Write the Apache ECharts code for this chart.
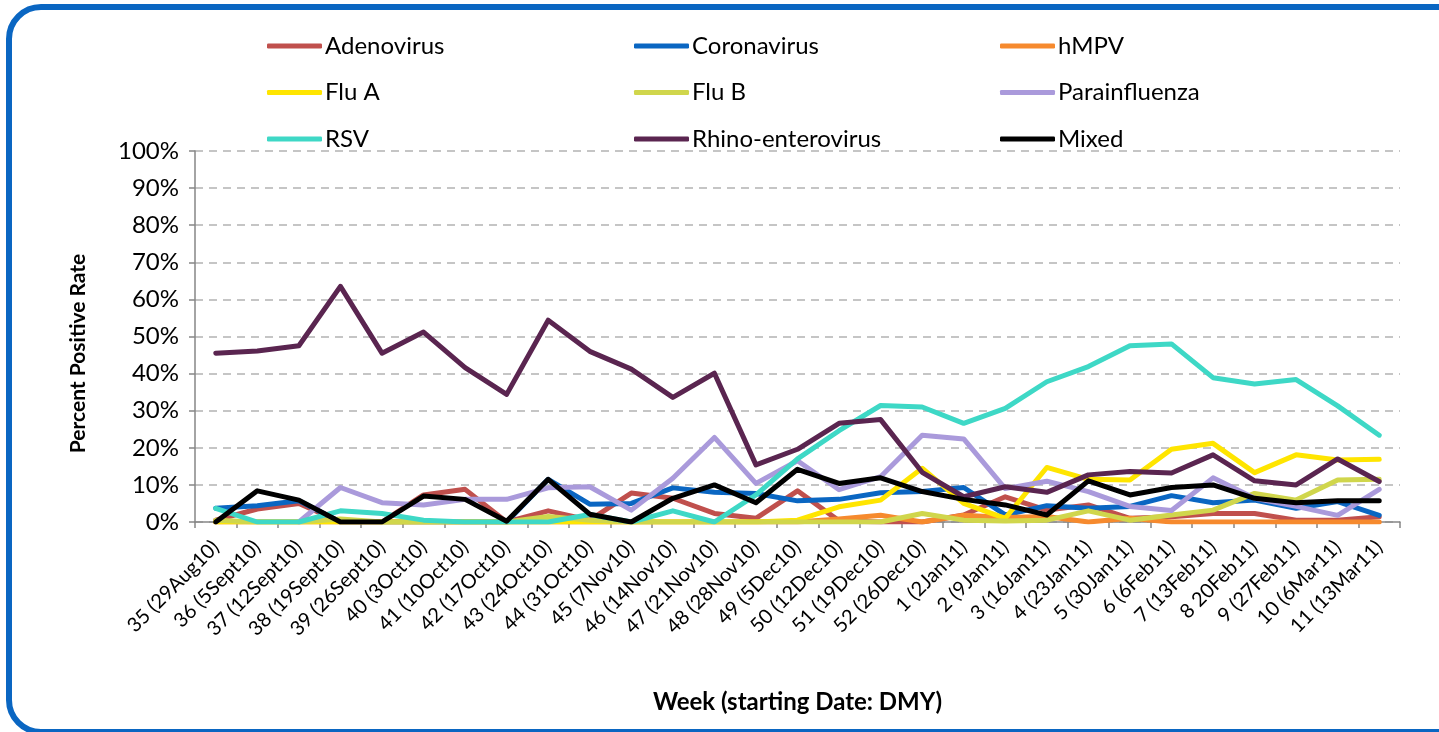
<!DOCTYPE html>
<html>
<head>
<meta charset="utf-8">
<script src="https://cdn.jsdelivr.net/npm/echarts@6/dist/echarts.min.js"></script>
<style>
  html, body { margin: 0; padding: 0; background: #ffffff; }
  #chart { width: 1439px; height: 732px; }
</style>
</head>
<body>
<div id="chart"></div>
<script>
// Weekly respiratory virus positivity, week 35 of 2010 to week 11 of 2011
const weeks = [
  '35 (29Aug10)', '36 (5Sept10)', '37 (12Sept10)', '38 (19Sept10)', '39 (26Sept10)',
  '40 (3Oct10)', '41 (10Oct10)', '42 (17Oct10)', '43 (24Oct10)', '44 (31Oct10)',
  '45 (7Nov10)', '46 (14Nov10)', '47 (21Nov10)', '48 (28Nov10)', '49 (5Dec10)',
  '50 (12Dec10)', '51 (19Dec10)', '52 (26Dec10)', '1 (2Jan11)', '2 (9Jan11)',
  '3 (16Jan11)', '4 (23Jan11)', '5 (30Jan11)', '6 (6Feb11)', '7 (13Feb11)',
  '8 20Feb11)', '9 (27Feb11)', '10 (6Mar11)', '11 (13Mar11)'
];

// Percent positive per week (null = no result reported that week)
const adenovirus   = [0.5, 3.5, 5.0, 0, 0, 7.3, 8.8, 0, 3.0, 0.5, 7.8, 6.4, 2.3, 1.0, 8.4, 0.3, 0, 0, 1.9, 6.8, 3.2, 4.6, 1.0, 1.4, 2.3, 2.3, 0.5, 0.5, 1.4];
const coronavirus  = [3.7, 4.4, 5.7, 0, 0, 0, 0, 0, 11.5, 4.8, 5.0, 9.2, 8.0, 7.7, 5.7, 6.1, 7.9, 8.2, 9.3, 1.9, 4.4, 3.7, 4.2, 7.1, 5.2, 5.9, 3.7, 5.5, 1.8];
const hmpv         = [0, 0, 0, 0, 0, 0, 0, 0, 0, 0, 0, 0, 0, 0, 0, 0.8, 1.8, 0, 1.8, 1.2, 1.5, 0, 1.0, 0, 0, 0, 0, 0, 0];
const fluA         = [0, 0, 0, 0, 0, 0, 0, 0, 0, 0, 0, 0, 0, 0, 0.5, 4.1, 5.9, 14.5, 5.0, 1.0, 14.7, 11.5, 11.3, 19.6, 21.2, 13.3, 18.1, 16.7, 16.9];
const fluB         = [0.5, 0, 0, 0.8, 0, 0, 0, 0, 1.5, 0.5, 0, 0, 0, 0, 0, 0, 0, 2.3, 0.5, 0.3, 0.5, 3.0, 0.5, 1.9, 3.2, 7.7, 5.9, 11.3, 11.5];
const parainfluenza = [null, null, 0, 9.3, 5.2, 4.6, 6.1, 6.1, 9.2, 9.5, 3.2, 11.8, 22.8, 10.4, 16.5, 8.7, 12.2, 23.4, 22.4, 9.0, 11.0, 8.2, 4.2, 3.1, 11.9, 6.4, 4.2, 1.8, 8.8];
const rsv          = [3.7, 0, 0, 3.0, 2.3, 0.5, 0, 0, 0, 2.0, 0, 3.0, 0, 7.3, 17.0, 24.6, 31.4, 31.0, 26.6, 30.6, 37.8, 41.9, 47.5, 48.0, 38.9, 37.2, 38.4, 31.3, 23.4];
const rhino        = [45.5, 46.1, 47.5, 63.5, 45.5, 51.2, 41.6, 34.4, 54.4, 46.0, 41.2, 33.6, 40.1, 15.4, 19.6, 26.6, 27.6, 13.4, 6.8, 9.5, 8.0, 12.7, 13.6, 13.2, 18.1, 11.1, 10.0, 17.0, 10.9];
const mixed        = [0, 8.4, 5.9, 0, 0, 7.0, 6.1, 0.2, 11.5, 2.1, 0, 6.4, 10.0, 5.2, 14.2, 10.4, 11.9, 8.2, 6.1, 4.6, 1.9, 11.1, 7.3, 9.3, 10.0, 6.4, 5.2, 5.7, 5.7];

const seriesDefs = [
  { name: 'Adenovirus', data: adenovirus, color: '#C0504D' },
  { name: 'Coronavirus', data: coronavirus, color: '#0A66C2' },
  { name: 'hMPV', data: hmpv, color: '#F68A2E' },
  { name: 'Flu A', data: fluA, color: '#FFE500' },
  { name: 'Flu B', data: fluB, color: '#D0D64C' },
  { name: 'Parainfluenza', data: parainfluenza, color: '#AA9ADB' },
  { name: 'RSV', data: rsv, color: '#3ED8C6' },
  { name: 'Rhino-enterovirus', data: rhino, color: '#5A2550' },
  { name: 'Mixed', data: mixed, color: '#000000' }
];

const FONT = 'Lato, "DejaVu Sans", sans-serif';

function legendColumn(names, left) {
  return {
    orient: 'vertical',
    left: left,
    top: 34,
    padding: 0,
    itemWidth: 55,
    itemHeight: 5,
    itemGap: 22.5,
    icon: 'roundRect',
    data: names,
    textStyle: { fontFamily: FONT, fontSize: 24, color: '#000000', padding: [0, 0, 0, -2] },
    selectedMode: false
  };
}

const chart = echarts.init(document.getElementById('chart'), null, { renderer: 'canvas' });

chart.setOption({
  backgroundColor: '#ffffff',
  animation: false,
  graphic: [{
    type: 'rect',
    z: -10,
    shape: { x: 9, y: 7, width: 1462, height: 725, r: 32 },
    style: { fill: 'none', stroke: '#0A66C2', lineWidth: 6 }
  }],
  legend: [
    legendColumn(['Adenovirus', 'Flu A', 'RSV'], 267),
    legendColumn(['Coronavirus', 'Flu B', 'Rhino-enterovirus'], 634),
    legendColumn(['hMPV', 'Parainfluenza', 'Mixed'], 1000)
  ],
  grid: { left: 195, right: 39, top: 151, bottom: 210, containLabel: false },
  xAxis: {
    type: 'category',
    data: weeks,
    boundaryGap: true,
    name: 'Week (starting Date: DMY)',
    nameLocation: 'middle',
    nameGap: 168,
    nameTextStyle: { fontFamily: FONT, fontSize: 24, fontWeight: 'bold', color: '#000000' },
    axisLine: { show: true, lineStyle: { color: '#868686', width: 1.5 } },
    axisTick: { show: true, length: 6, alignWithLabel: false, lineStyle: { color: '#868686', width: 1.5 } },
    axisLabel: {
      interval: 0,
      rotate: 45,
      margin: 22,
      fontFamily: FONT,
      fontSize: 20,
      color: '#000000'
    },
    splitLine: { show: false }
  },
  yAxis: {
    type: 'value',
    min: 0,
    max: 100,
    interval: 10,
    name: 'Percent Positive Rate',
    nameLocation: 'middle',
    nameGap: 106,
    nameRotate: 90,
    nameTextStyle: { fontFamily: FONT, fontSize: 21, fontWeight: 'bold', color: '#000000', padding: [0, 34, 0, 0] },
    axisLine: { show: true, lineStyle: { color: '#868686', width: 1.5 } },
    axisTick: { show: true, length: 6, lineStyle: { color: '#868686', width: 1.5 } },
    axisLabel: {
      formatter: '{value}%',
      margin: 16,
      fontFamily: FONT,
      fontSize: 24,
      color: '#000000'
    },
    splitLine: { show: true, lineStyle: { color: '#B3B3B3', width: 1.5, type: [8, 6] } }
  },
  series: seriesDefs.map(function (s) {
    return {
      name: s.name,
      type: 'line',
      data: s.data,
      symbol: 'none',
      showSymbol: false,
      connectNulls: false,
      color: s.color,
      lineStyle: { color: s.color, width: 5, cap: 'round', join: 'round' },
      emphasis: { disabled: true }
    };
  })
});
</script>
</body>
</html>
